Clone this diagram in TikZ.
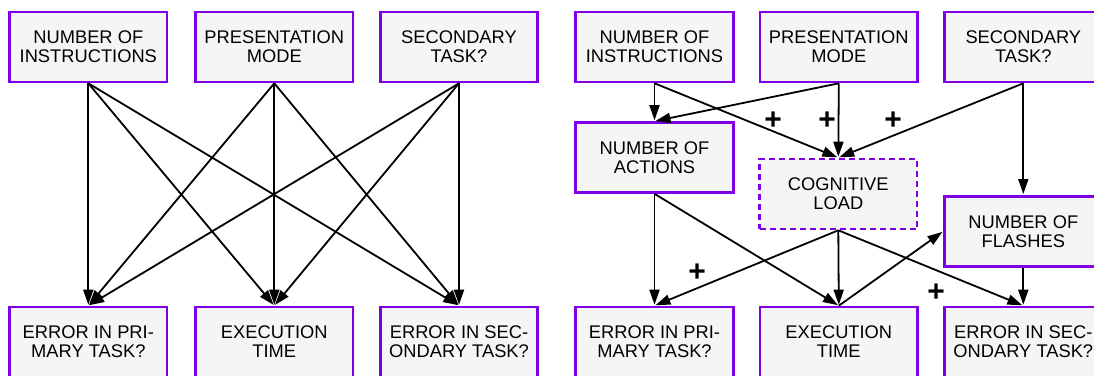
\documentclass[tikz,border=0pt]{standalone}
\usepackage{fontspec}
\newfontfamily\diagfont{Liberation Sans}
\usetikzlibrary{arrows.meta}
\definecolor{boxedge}{RGB}{128,0,230}
\definecolor{boxfill}{RGB}{245,245,245}
\tikzset{
  var/.style={draw=boxedge, fill=boxfill, line width=2.6pt, rectangle,
    minimum width=157.5pt, minimum height=70pt, align=center, inner sep=0pt,
    font=\diagfont\fontsize{18.3}{19}\selectfont, text=black},
  latent/.style={var, dashed, dash pattern=on 6pt off 4pt},
  link/.style={line width=1.8pt, -{Triangle[length=15pt,width=10pt]}, shorten >=1pt},
  sign/.style={font=\diagfont\fontsize{30}{30}\selectfont\bfseries, inner sep=0pt}
}
\begin{document}
\begin{tikzpicture}[x=1pt,y=-1pt]
\useasboundingbox (0,0) rectangle (1094,375);
\clip (0,0) rectangle (1094,375);

% ---- full model: every factor to every outcome ----
\node[var] (ni)  at (88.3,47)  {NUMBER OF\\INSTRUCTIONS};
\node[var] (pm)  at (274.3,47) {PRESENTATION\\MODE};
\node[var] (st)  at (459,47)   {SECONDARY\\TASK?};
\node[var] (ep)  at (88.3,342) {ERROR IN PRI-\\MARY TASK?};
\node[var] (et)  at (274.3,342){EXECUTION\\TIME};
\node[var] (es)  at (459,342)  {ERROR IN SEC-\\ONDARY TASK?};

\foreach \s in {ni,pm,st}
  \foreach \t in {ep,et,es}
    \draw[link] (\s.south) -- (\t.north);

% ---- mediated model ----
\node[var] (ni2) at (654.5,47)  {NUMBER OF\\INSTRUCTIONS};
\node[var] (pm2) at (838.8,47)  {PRESENTATION\\MODE};
\node[var] (st2) at (1023.3,47) {SECONDARY\\TASK?};
\node[var] (na)  at (654.5,157.5) {NUMBER OF\\ACTIONS};
\node[latent] (cl) at (838.3,194) {COGNITIVE\\LOAD};
\node[var] (nf)  at (1023.3,231.3) {NUMBER OF\\FLASHES};
\node[var] (ep2) at (654.5,342)  {ERROR IN PRI-\\MARY TASK?};
\node[var] (et2) at (838.8,342)  {EXECUTION\\TIME};
\node[var] (es2) at (1023.3,342) {ERROR IN SEC-\\ONDARY TASK?};

\draw[link] (ni2.south) -- (na.north);
\draw[link] (ni2.south) -- (cl.north);
\draw[link] (pm2.south) -- (na.north);
\draw[link] (pm2.south) -- (cl.north);
\draw[link] (st2.south) -- (cl.north);
\draw[link] (st2.south) -- (nf.north);
\draw[link] (na.south) -- (ep2.north);
\draw[link] (na.south) -- (et2.north);
\draw[link] (cl.south) -- (ep2.north);
\draw[link] (cl.south) -- (et2.north);
\draw[link] (cl.south) -- (es2.north);
\draw[link] (et2.north) -- (nf.west);
\draw[link] (nf.south) -- (es2.north);

\node[sign] (p1) at (773,121) {+};
\node[sign] (p2) at (827,121) {+};
\node[sign] (p3) at (893,121) {+};
\node[sign] (p4) at (697,273) {+};
\node[sign] (p5) at (936,293) {+};
\end{tikzpicture}
\end{document}
